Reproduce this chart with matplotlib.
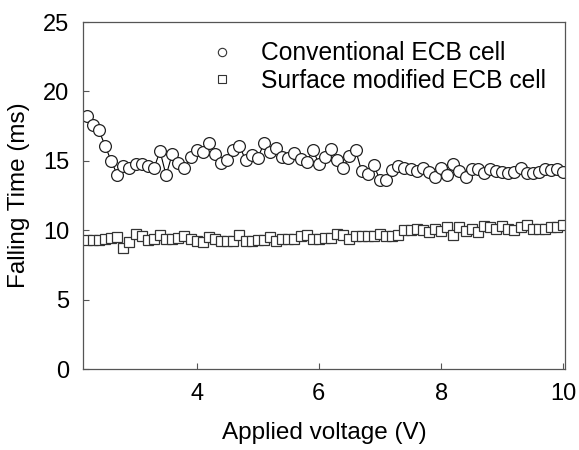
import matplotlib
matplotlib.use('Agg')
import matplotlib.pyplot as plt
from matplotlib.lines import Line2D
import numpy as np

plt.rcParams['font.family'] = ['Liberation Sans', 'DejaVu Sans']

# Applied voltage (V), 0.1 V steps
voltage = np.round(np.arange(2.2, 10.01, 0.1), 1)

# Falling time (ms) of the conventional ECB cell
conventional = [
    18.2, 17.6, 17.2, 16.1, 15.0, 14.0, 14.6, 14.5, 14.75, 14.8,
    14.6, 14.45, 15.7, 13.95, 15.5, 14.85, 14.5, 15.25, 15.8, 15.65,
    16.25, 15.5, 14.85, 15.05, 15.8, 16.1, 15.05, 15.45, 15.2, 16.25,
    15.65, 15.95, 15.3, 15.2, 15.6, 15.15, 14.9, 15.8, 14.8, 15.3,
    15.85, 15.05, 14.5, 15.35, 15.8, 14.25, 14.05, 14.7, 13.6, 13.65,
    14.35, 14.6, 14.5, 14.4, 14.3, 14.45, 14.2, 13.85, 14.5, 14.0,
    14.75, 14.3, 13.8, 14.4, 14.4, 14.15, 14.4, 14.25, 14.2, 14.1,
    14.2, 14.45, 14.15, 14.15, 14.2, 14.4, 14.35, 14.4, 14.2,
]

# Falling time (ms) of the surface modified ECB cell
modified = [
    9.3, 9.3, 9.3, 9.35, 9.45, 9.5, 8.75, 9.15, 9.7, 9.6,
    9.3, 9.35, 9.65, 9.35, 9.35, 9.45, 9.55, 9.35, 9.2, 9.15,
    9.5, 9.35, 9.25, 9.25, 9.2, 9.65, 9.25, 9.25, 9.3, 9.3,
    9.5, 9.25, 9.35, 9.35, 9.4, 9.6, 9.65, 9.4, 9.4,
    9.45, 9.45, 9.75, 9.65, 9.35, 9.55, 9.55, 9.6, 9.6, 9.75,
    9.6, 9.6, 9.65, 10.0, 10.0, 10.1, 10.0, 9.9, 10.1,
    9.95, 10.25, 9.65, 10.2, 9.95, 10.1, 9.9, 10.3, 10.25, 10.1,
    10.3, 10.1, 10.05, 10.2, 10.35, 10.1, 10.1, 10.1, 10.25, 10.2, 10.35,
]

fig = plt.figure(figsize=(5.79, 4.5), dpi=100)
ax = fig.add_axes([0.1434, 0.18, 0.8326, 0.771])

ax.plot(voltage, conventional, color='black', linewidth=0.8, marker='o',
        markersize=8.5, markerfacecolor='white', markeredgecolor='#222222',
        markeredgewidth=0.9)
ax.plot(voltage, modified, color='black', linewidth=0.8, marker='s',
        markersize=7.5, markerfacecolor='white', markeredgecolor='#333333',
        markeredgewidth=0.9)

ax.set_xlim(2.14, 10.03)
ax.set_ylim(0, 25)
ax.set_xticks([4, 6, 8, 10])
ax.set_yticks([0, 5, 10, 15, 20, 25])
ax.tick_params(direction='in', length=4, width=0.8, color='#555555',
               labelsize=17, pad=10)
for s in ax.spines.values():
    s.set_color('#555555')
    s.set_linewidth(0.9)

ax.set_xlabel('Applied voltage (V)', fontsize=17.5, labelpad=12)
ax.set_ylabel('Falling Time (ms)', fontsize=17.5, labelpad=9)

handles = [
    Line2D([], [], linestyle='none', marker='o', markersize=6,
           markerfacecolor='white', markeredgecolor='#333333', markeredgewidth=0.8),
    Line2D([], [], linestyle='none', marker='s', markersize=5.5,
           markerfacecolor='white', markeredgecolor='#333333', markeredgewidth=0.8),
]
ax.legend(handles, ['Conventional ECB cell', 'Surface modified ECB cell'],
          loc='upper left', bbox_to_anchor=(0.263, 0.945), frameon=False,
          fontsize=17.7, handlelength=1.0, handletextpad=1.1, labelspacing=0.15,
          borderpad=0, borderaxespad=0)

fig.savefig('out.png', dpi=100)
